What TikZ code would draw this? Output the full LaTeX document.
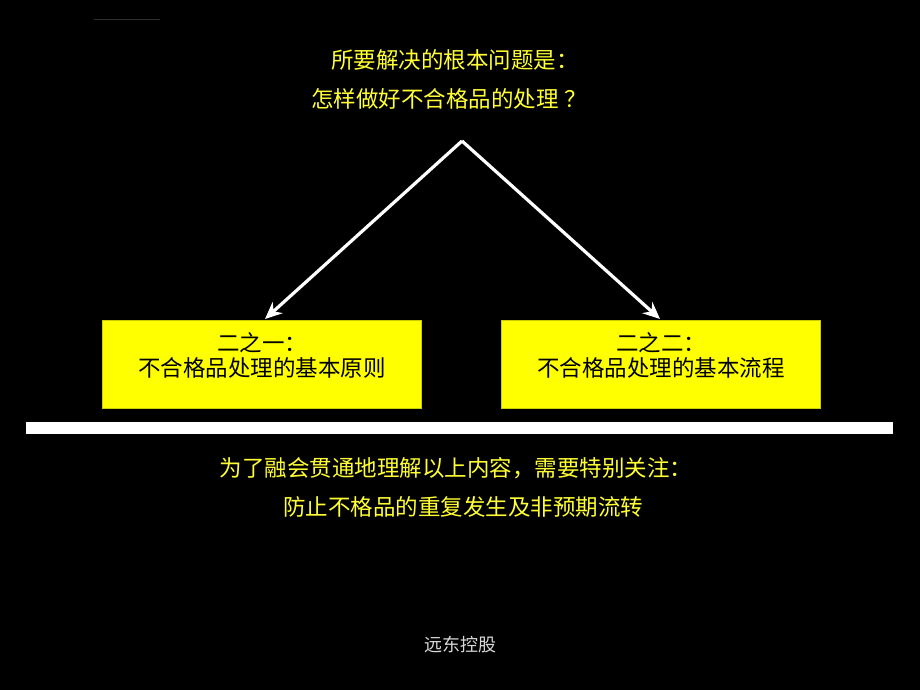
\documentclass[tikz,border=0pt]{standalone}
\usepackage{fontspec}
\setmainfont{Noto Sans CJK SC}
\usetikzlibrary{arrows.meta}
\definecolor{ylw}{HTML}{FFFF00}
\definecolor{ttl}{HTML}{FFFF33}
\begin{document}
\begin{tikzpicture}[x=1pt,y=-1pt,
  title/.style={text=ttl,font=\fontsize{22.5}{26}\selectfont,inner sep=0pt,anchor=center},
  boxnode/.style={fill=ylw,draw=ylw!80!black,line width=0.6pt,minimum width=319pt,minimum height=88pt,inner sep=0pt,anchor=north west},
  boxtext/.style={text=black,font=\fontsize{22.5}{26}\selectfont,inner sep=0pt,anchor=center},
  conn/.style={draw=white,line width=3.2pt,-{Stealth[length=17pt,width=15pt]}}]
\fill[black] (0,0) rectangle (920,690);
\useasboundingbox (0,0) rectangle (920,690);
\draw[gray!35!black,line width=0.5pt] (94,19) -- (160,19);
\node[title] (t1) at (455,60) {所要解决的根本问题是：};
\node[title] (t2) at (449,99) {怎样做好不合格品的处理 ？};
\coordinate (apex) at (462,141);
\node[boxnode] (b1) at (102,320) {};
\node[boxnode] (b2) at (501,320) {};
\node[boxtext] (b1a) at (262,343) {二之一：};
\node[boxtext] (b1b) at (262,368) {不合格品处理的基本原则};
\node[boxtext] (b2a) at (661,343) {二之二：};
\node[boxtext] (b2b) at (661,368) {不合格品处理的基本流程};
\draw[conn] (apex) -- (265,319);
\draw[conn] (apex) -- (660,319);
\fill[white] (26,422) rectangle (893,434);
\node[title] (m1) at (456,468) {为了融会贯通地理解以上内容，需要特别关注：};
\node[title] (m2) at (463,507) {防止不格品的重复发生及非预期流转};
\node[text=white!85!black,font=\fontsize{18}{20}\selectfont,inner sep=0pt] (ft) at (460,645) {远东控股};
\end{tikzpicture}
\end{document}
